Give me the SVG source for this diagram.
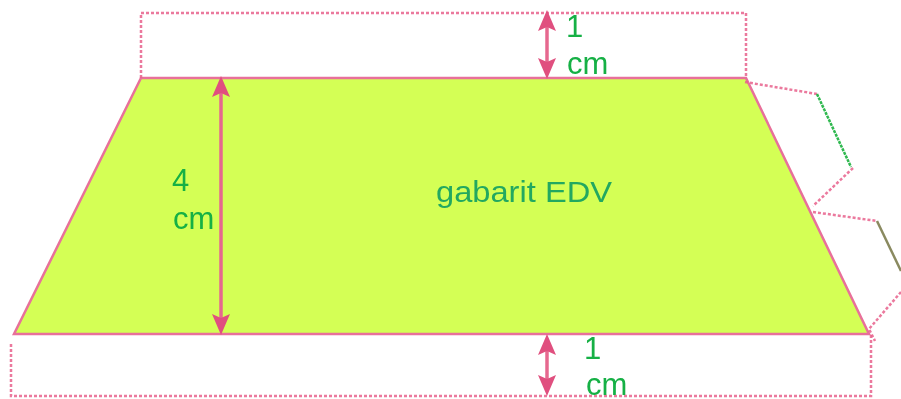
<svg xmlns="http://www.w3.org/2000/svg" width="901" height="399" viewBox="0 0 901 399">
<style>
.t{font-family:"Liberation Sans",Arial,sans-serif;font-size:31px;fill:#14b044}
.d{fill:none;stroke:#e8608c;stroke-width:2.5;stroke-dasharray:3 2;opacity:.85}
.a{fill:none;stroke:#e6688f;stroke-width:3.5}
.h{fill:#e0507f}
</style>
<defs>
<path id="up" class="h" d="M0 0L9 21L0 17L-9 21Z"/>
<filter id="soft" filterUnits="userSpaceOnUse" x="0" y="0" width="901" height="399"><feGaussianBlur stdDeviation="0.7"/></filter>
</defs>
<g filter="url(#soft)">
<g id="gabarit">
<polygon points="141,78 746,78 869,334 14,334" fill="#d4ff55" stroke="#e8709a" stroke-width="2.5"/>
<text class="t" x="436" y="202" style="font-size:30px;fill:#22a860" textLength="176" lengthAdjust="spacingAndGlyphs">gabarit EDV</text>
</g>
<g id="marge-haut">
<path class="d" d="M141 78V13H746V78"/>
<text class="t" x="566" y="37">1</text>
<text class="t" x="567" y="74">cm</text>
</g>
<g id="marge-bas">
<path class="d" d="M11 344V396H871V334"/>
<text class="t" x="584" y="359">1</text>
<text class="t" x="586" y="395">cm</text>
</g>
<g id="rabat-1">
<path class="d" d="M745 82L817 94"/>
<path d="M817 94L851 167" fill="none" stroke="#2fb84f" stroke-width="2.5" stroke-dasharray="3 1"/>
<path class="d" d="M853 168L813 206"/>
</g>
<g id="rabat-2">
<path class="d" d="M813 212L877 221"/>
<path d="M877 221L901 271" fill="none" stroke="#8a8a60" stroke-width="2.5"/>
<path class="d" d="M901 292L869 329L875 341"/>
</g>
<g id="connecteurs">
<path class="a" d="M221 90V322"/>
<use href="#up" x="221" y="76"/>
<use href="#up" transform="translate(221 335) scale(1 -1)"/>
<path class="a" d="M547 24V68"/>
<use href="#up" x="547" y="10"/>
<use href="#up" transform="translate(547 79) scale(1 -1)"/>
<path class="a" d="M547 346V384"/>
<use href="#up" x="547" y="334"/>
<use href="#up" transform="translate(547 396) scale(1 -1)"/>
</g>
<g id="cote-4cm">
<text class="t" x="172" y="191">4</text>
<text class="t" x="173" y="229">cm</text>
</g>
</g>
</svg>
